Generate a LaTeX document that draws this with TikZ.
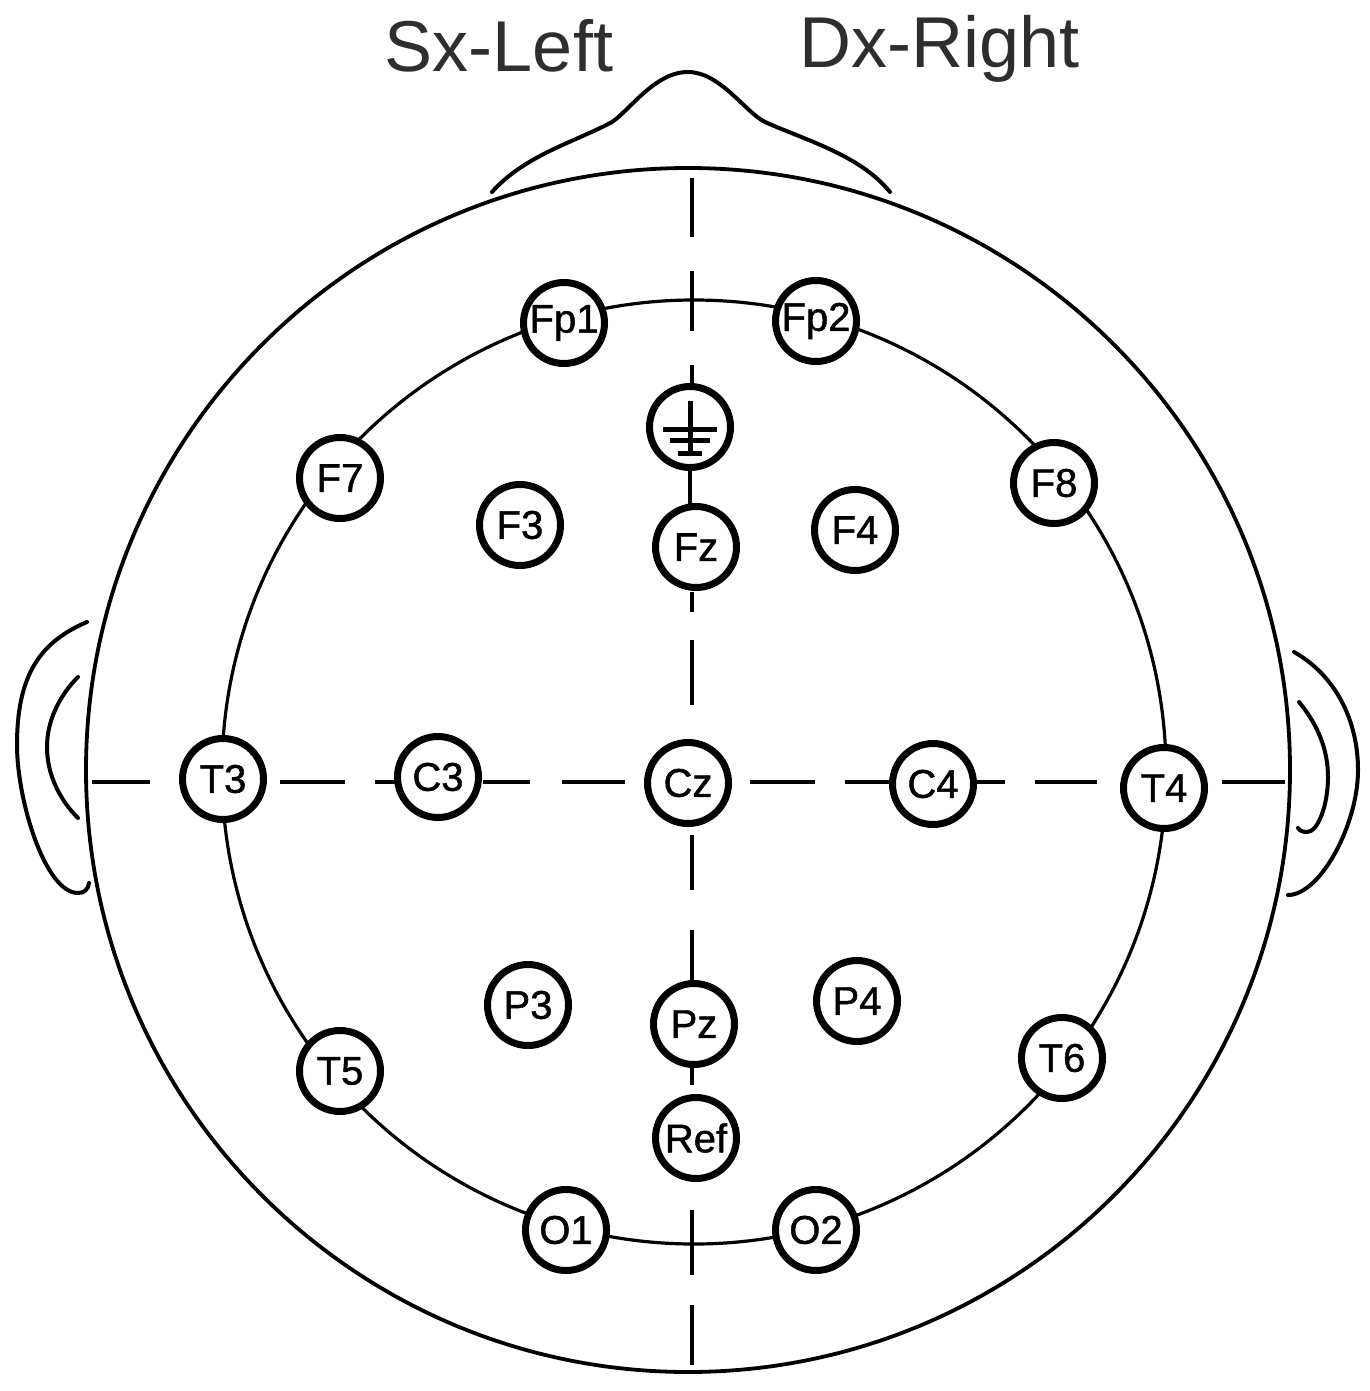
\documentclass[tikz,border=0pt]{standalone}
\usepackage{fontspec}
\setmainfont{Liberation Sans}
\usetikzlibrary{backgrounds}
\tikzset{
  elec/.style={circle,draw=black,fill=white,line width=7pt,minimum size=81pt,inner sep=0pt,font=\fontsize{40}{40}\selectfont\addfontfeature{FakeBold=1.2}},
  head/.style={draw=black,line width=3.8pt},
  ring/.style={draw=black,line width=3.2pt},
  ear/.style={draw=black,line width=4pt,line cap=round},
  axis/.style={draw=black,line width=4.2pt},
  gnd/.style={draw=black,line width=5pt},
  title/.style={text=black!82,font=\fontsize{72}{72}\selectfont,inner sep=0pt,anchor=base}
}
\begin{document}
\begin{tikzpicture}[x=1pt,y=-1pt]
\useasboundingbox (0,0) rectangle (1369,1391);
\node[title] (sx) at (499,72) {Sx-Left};
\node[title] (dx) at (940,68) {Dx-Right};
\foreach \n/\t/\x/\y in {Fp1/Fp1/564/323,Fp2/Fp2/816/321,F7/F7/340/478,F3/F3/520/525,Fz/Fz/696/547,F4/F4/855/530,F8/F8/1054/483,T3/T3/223/779,C3/C3/438/777,Cz/Cz/688/783,C4/C4/933/784,T4/T4/1164/788,P3/P3/528/1005,Pz/Pz/694/1024,P4/P4/857/1001,T5/T5/340/1071,T6/T6/1062/1058,Ref/Ref/696/1138,O1/O1/566/1230,O2/O2/816/1230}
  \node[elec] (\n) at (\x,\y) {\t};
\node[elec] (G) at (690,427) {};
\draw[gnd] (G.center) ++(0,-26) -- ++(0,55);
\draw[gnd] (G.center) ++(-27,2) -- ++(54,0);
\draw[gnd] (G.center) ++(-20,13) -- ++(40,0);
\draw[gnd] (G.center) ++(-12,26) -- ++(24,0);
\begin{scope}[on background layer]
\fill[white] (0,0) rectangle (1369,1391);
\draw[head] (688,770) circle (602);
\draw[ring] (694,772) circle (472);
% nose
\draw[ear] (492,192) .. controls (525,155) and (575,142) .. (612,122)
  .. controls (630,110) and (655,72) .. (688,72)
  .. controls (720,72) and (745,112) .. (765,122)
  .. controls (805,140) and (860,155) .. (890,192);
% ears
\draw[ear] (87,622) .. controls (40,642) and (17,675) .. (17,745)
  .. controls (17,800) and (45,893) .. (78,893) .. controls (84,893) and (88,890) .. (89,883);
\draw[ear] (78,677) .. controls (60,695) and (47,720) .. (47,747) .. controls (47,775) and (60,800) .. (78,818);
\draw[ear] (1294,652) .. controls (1335,675) and (1358,720) .. (1358,770)
  .. controls (1358,825) and (1320,895) .. (1288,895);
\draw[ear] (1299,702) .. controls (1318,725) and (1328,750) .. (1328,777) .. controls (1328,805) and (1318,832) .. (1307,832) .. controls (1303,832) and (1300,831) .. (1298,828);
% vertical axis
\foreach \a/\b in {178/237,271/331,365/400,592/612,640/705,835/890,930/985,1062/1085,1210/1275,1305/1365}
  \draw[axis] (692,\a) -- (692,\b);
\draw[axis] (G) -- (G |- Fz);
% horizontal axis
\foreach \a/\b in {92/150,280/345,375/400,483/530,562/625,750/815,845/890,975/1005,1035/1097,1222/1285}
  \draw[axis] (\a,782) -- (\b,782);
\end{scope}
\end{tikzpicture}
\end{document}
